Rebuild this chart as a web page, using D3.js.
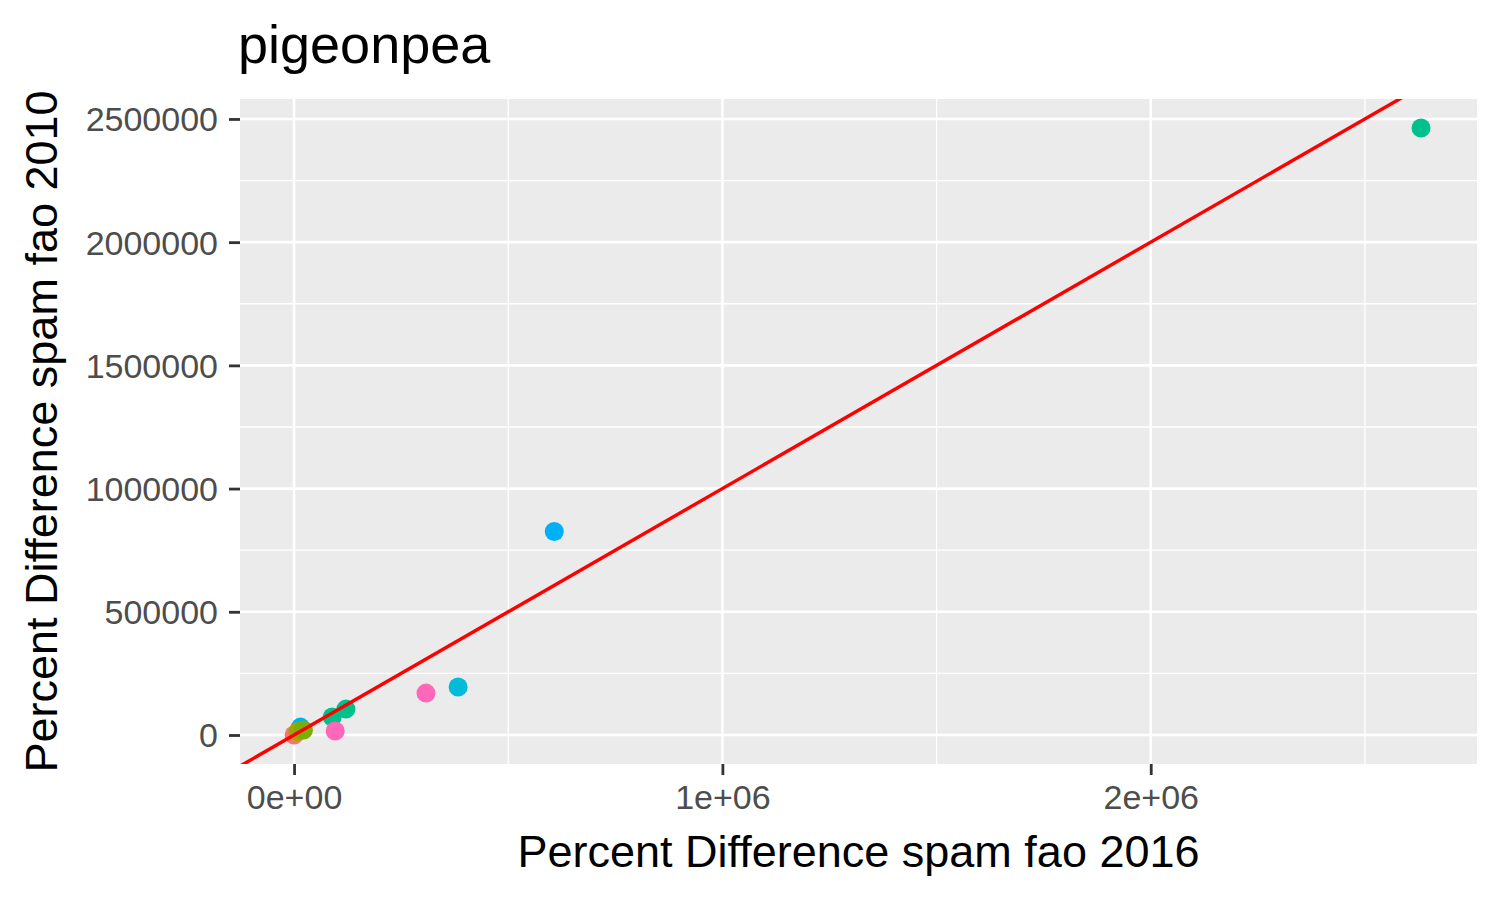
<!DOCTYPE html>
<html>
<head>
<meta charset="utf-8">
<script src="https://cdn.jsdelivr.net/npm/d3@7"></script>
<style>
  body { margin: 0; background: #fff; }
  text { font-family: "Liberation Sans", Arial, Helvetica, sans-serif; }
</style>
</head>
<body>
<svg id="chart" width="1500" height="900"></svg>
<script>
// values (spam fao 2016 vs 2010)
var xValues = [0, 15000, 9000, 22000, 89000, 121000, 96000, 308000, 383000, 607500, 2631000];
var yValues = [0, 32000, 14000, 20000, 73000, 105000, 16000, 170000, 195000, 826000, 2463000];
var colours = ["#F8766D", "#00B0F6", "#A3A500", "#7CAE00", "#00C08B", "#00C08B", "#FF67B8", "#FF67B8", "#00BCD8", "#00B0F6", "#00C08B"];

var xTicks = [0, 1e6, 2e6];
var xTickLabels = ["0e+00", "1e+06", "2e+06"];
var xMinor = [5e5, 1.5e6, 2.5e6];
var yTicks = [0, 500000, 1000000, 1500000, 2000000, 2500000];
var yMinor = [250000, 750000, 1250000, 1750000, 2250000];
var lineEnds = [-200000, 3000000];

var margin = { top: 99, right: 23, bottom: 136, left: 240 };
var width = 1500 - margin.left - margin.right,
    height = 900 - margin.top - margin.bottom;

var svg = d3.select("#chart");
var g = svg.append("g").attr("transform", "translate(" + margin.left + "," + margin.top + ")");

var x = d3.scaleLinear().domain([-126200, 2761700]).range([0, width]);
var y = d3.scaleLinear().domain([-117700, 2581000]).range([height, 0]);

g.append("rect").attr("width", width).attr("height", height).attr("fill", "#EBEBEB");

g.append("defs").append("clipPath").attr("id", "clip")
  .append("rect").attr("width", width).attr("height", height);

// minor grid
g.selectAll(".xminor").data(xMinor).enter().append("line")
  .attr("x1", x).attr("x2", x).attr("y1", 0).attr("y2", height)
  .attr("stroke", "#fff").attr("stroke-width", 1.3);
g.selectAll(".yminor").data(yMinor).enter().append("line")
  .attr("y1", y).attr("y2", y).attr("x1", 0).attr("x2", width)
  .attr("stroke", "#fff").attr("stroke-width", 1.3);
// major grid
g.selectAll(".xmajor").data(xTicks).enter().append("line")
  .attr("x1", x).attr("x2", x).attr("y1", 0).attr("y2", height)
  .attr("stroke", "#fff").attr("stroke-width", 2.6);
g.selectAll(".ymajor").data(yTicks).enter().append("line")
  .attr("y1", y).attr("y2", y).attr("x1", 0).attr("x2", width)
  .attr("stroke", "#fff").attr("stroke-width", 2.6);

// points
var pts = xValues.map(function(v, i) { return { x: v, y: yValues[i], c: colours[i] }; });
g.append("g").attr("clip-path", "url(#clip)")
  .selectAll("circle").data(pts).enter().append("circle")
  .attr("cx", function(d) { return x(d.x); })
  .attr("cy", function(d) { return y(d.y); })
  .attr("r", 9.5)
  .attr("fill", function(d) { return d.c; });

// y = x reference line
g.append("line").attr("clip-path", "url(#clip)")
  .attr("x1", x(lineEnds[0])).attr("y1", y(lineEnds[0]))
  .attr("x2", x(lineEnds[1])).attr("y2", y(lineEnds[1]))
  .attr("stroke", "#FF0000").attr("stroke-width", 3.4);

// axes
var xAxis = g.append("g").attr("transform", "translate(0," + height + ")")
  .call(d3.axisBottom(x).tickValues(xTicks).tickSize(11).tickPadding(6)
    .tickFormat(function(d, i) { return xTickLabels[i]; }));
var yAxis = g.append("g")
  .call(d3.axisLeft(y).tickValues(yTicks).tickSize(11).tickPadding(11).tickFormat(d3.format("d")));

[xAxis, yAxis].forEach(function(a) {
  a.select(".domain").remove();
  a.selectAll(".tick line").attr("stroke", "#333").attr("stroke-width", 2.8);
  a.selectAll(".tick text").attr("fill", "#4D4D4D").style("font-size", "34px");
});
xAxis.selectAll(".tick text").attr("dy", "0.82em");
yAxis.selectAll(".tick text").attr("dy", "0.35em");

// titles
svg.append("text").attr("x", 238).attr("y", 63)
  .style("font-size", "54px").attr("fill", "#000").text("pigeonpea");

svg.append("text").attr("x", margin.left + width / 2).attr("y", 867)
  .attr("text-anchor", "middle").style("font-size", "45px").attr("fill", "#000")
  .text("Percent Difference spam fao 2016");

svg.append("text")
  .attr("transform", "translate(57," + (margin.top + height / 2) + ") rotate(-90)")
  .attr("text-anchor", "middle").style("font-size", "45px").attr("fill", "#000")
  .text("Percent Difference spam fao 2010");
</script>
</body>
</html>
